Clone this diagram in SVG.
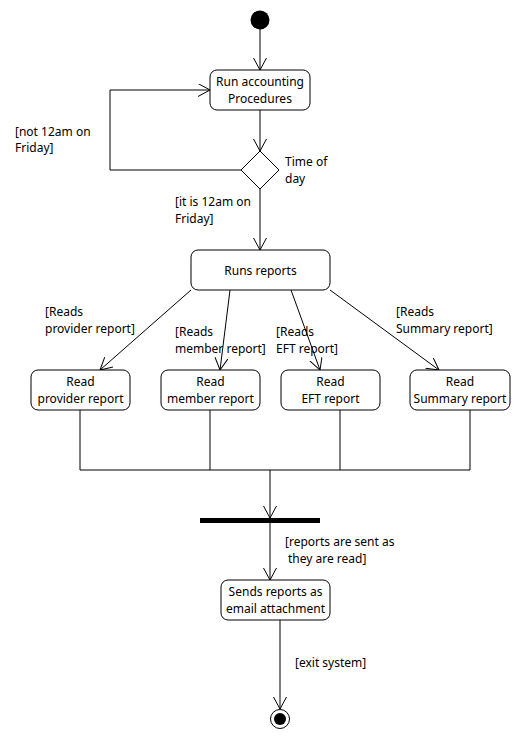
<svg xmlns="http://www.w3.org/2000/svg" width="520" height="740" viewBox="0 0 520 740">
<style>
text{font-family:"Noto Sans","Open Sans",sans-serif;font-size:12px;fill:#000}
.box{fill:#fff;stroke:#000;stroke-width:1}
.c{fill:none;stroke:#000;stroke-width:1}
.m{text-anchor:middle}
</style>
<defs>
<marker id="arr" markerUnits="userSpaceOnUse" markerWidth="14" markerHeight="14" refX="12" refY="6.5" orient="auto">
<path d="M0,0 L12,6.5 L0,13" fill="none" stroke="#000" stroke-width="1"/>
</marker>
</defs>
<rect width="520" height="740" fill="#fff"/>
<g id="connectors">
<line class="c" x1="260" y1="29" x2="260" y2="70" marker-end="url(#arr)"/>
<line class="c" x1="260" y1="110" x2="260" y2="151" marker-end="url(#arr)"/>
<polyline class="c" points="241,170 110,170 110,90 210,90" marker-end="url(#arr)"/>
<line class="c" x1="260" y1="189" x2="260" y2="250" marker-end="url(#arr)"/>
<line class="c" x1="191" y1="290" x2="100" y2="370" marker-end="url(#arr)"/>
<line class="c" x1="230" y1="290" x2="220" y2="370" marker-end="url(#arr)"/>
<line class="c" x1="291" y1="290" x2="320" y2="370" marker-end="url(#arr)"/>
<line class="c" x1="330" y1="290" x2="439" y2="370" marker-end="url(#arr)"/>
<polyline class="c" points="80,410 80,470 470,470 470,410"/>
<line class="c" x1="210" y1="410" x2="210" y2="470"/>
<line class="c" x1="340" y1="410" x2="340" y2="470"/>
<line class="c" x1="270" y1="470" x2="270" y2="518" marker-end="url(#arr)"/>
<line class="c" x1="270" y1="523" x2="270" y2="580" marker-end="url(#arr)"/>
<line class="c" x1="280" y1="620" x2="280" y2="709" marker-end="url(#arr)"/>
<text><tspan x="15" y="135.5">[not 12am on</tspan><tspan x="15" y="152">Friday]</tspan></text>
<text><tspan x="175" y="206.25">[it is 12am on</tspan><tspan x="175" y="222.75">Friday]</tspan></text>
<text><tspan x="45" y="316.25">[Reads</tspan><tspan x="45" y="332.75">provider report]</tspan></text>
<text><tspan x="175" y="336.25">[Reads</tspan><tspan x="175" y="352.75">member report]</tspan></text>
<text><tspan x="276" y="336.25">[Reads</tspan><tspan x="276" y="352.75">EFT report]</tspan></text>
<text><tspan x="396" y="316.25">[Reads</tspan><tspan x="396" y="332.75">Summary report]</tspan></text>
<text><tspan x="285" y="546.25">[reports are sent as</tspan><tspan x="288" y="562.75">they are read]</tspan></text>
<text x="295" y="667">[exit system]</text>
</g>
<g id="start"><circle cx="260" cy="20" r="9.5" fill="#000"/></g>
<g id="run-accounting">
<rect class="box" x="210" y="70" width="100" height="40" rx="7"/>
<text class="m"><tspan x="260" y="86.25">Run accounting</tspan><tspan x="260" y="102.75">Procedures</tspan></text>
</g>
<g id="decision">
<polygon class="box" points="260,151 279,170 260,189 241,170"/>
<text><tspan x="285" y="166.25">Time of</tspan><tspan x="285" y="182.75">day</tspan></text>
</g>
<g id="runs-reports">
<rect class="box" x="191" y="250" width="139" height="40" rx="7"/>
<text class="m" x="260.5" y="275">Runs reports</text>
</g>
<g id="read-provider">
<rect class="box" x="31" y="370" width="99" height="40" rx="7"/>
<text class="m"><tspan x="80.5" y="386.25">Read</tspan><tspan x="80.5" y="402.75">provider report</tspan></text>
</g>
<g id="read-member">
<rect class="box" x="161" y="370" width="99" height="40" rx="7"/>
<text class="m"><tspan x="210.5" y="386.25">Read</tspan><tspan x="210.5" y="402.75">member report</tspan></text>
</g>
<g id="read-eft">
<rect class="box" x="281" y="370" width="99" height="40" rx="7"/>
<text class="m"><tspan x="330.5" y="386.25">Read</tspan><tspan x="330.5" y="402.75">EFT report</tspan></text>
</g>
<g id="read-summary">
<rect class="box" x="410" y="370" width="100" height="40" rx="7"/>
<text class="m"><tspan x="460" y="386.25">Read</tspan><tspan x="460" y="402.75">Summary report</tspan></text>
</g>
<g id="fork"><rect x="200" y="518" width="120" height="5" fill="#000"/></g>
<g id="send-reports">
<rect class="box" x="221" y="580" width="109" height="40" rx="7"/>
<text class="m"><tspan x="275.5" y="596.25">Sends reports as</tspan><tspan x="275.5" y="612.75">email attachment</tspan></text>
</g>
<g id="end">
<circle cx="280" cy="719" r="9.5" fill="#fff" stroke="#000" stroke-width="1"/>
<circle cx="280" cy="719" r="6" fill="#000"/>
</g>
</svg>
